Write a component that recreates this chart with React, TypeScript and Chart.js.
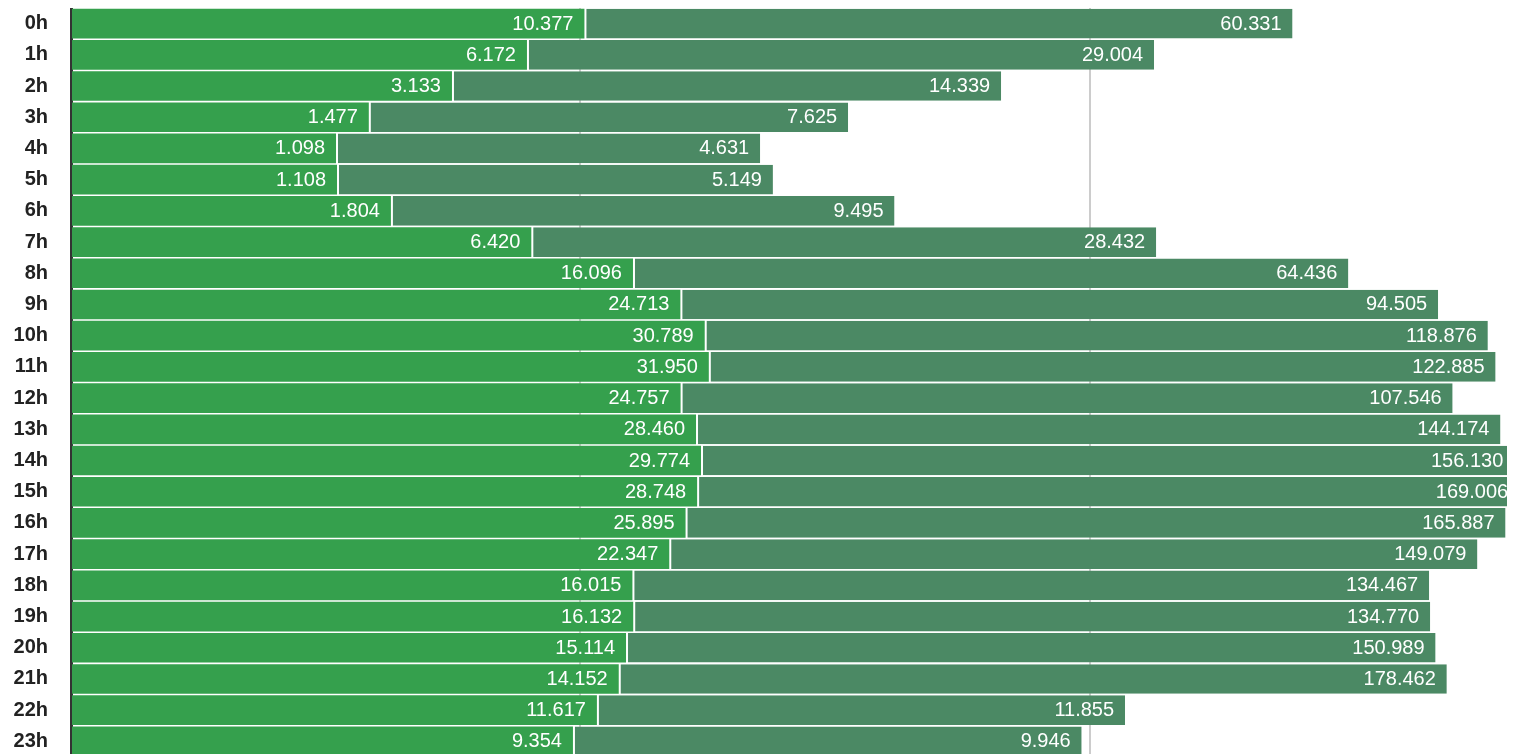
import React, { useEffect, useRef } from 'react';
import { Chart, registerables } from 'chart.js';

Chart.register(...registerables);

const hours = ['0h','1h','2h','3h','4h','5h','6h','7h','8h','9h','10h','11h','12h','13h','14h','15h','16h','17h','18h','19h','20h','21h','22h','23h'];

const firstValues = [10377, 6172, 3133, 1477, 1098, 1108, 1804, 6420, 16096, 24713, 30789, 31950, 24757, 28460, 29774, 28748, 25895, 22347, 16015, 16132, 15114, 14152, 11617, 9354];

const secondValues = [60331, 29004, 14339, 7625, 4631, 5149, 9495, 28432, 64436, 94505, 118876, 122885, 107546, 144174, 156130, 169006, 165887, 149079, 134467, 134770, 150989, 178462, 11855, 9946];

const axisMax = 6;
const axisStep = 2;

const FONT = '"Liberation Sans", Arial, Helvetica, sans-serif';

const fmt = (v: number) => String(v).replace(/\B(?=(\d{3})+(?!\d))/g, '.');
// each segment's length is drawn on a log scale of its own value
const segLen = (v: number) => Math.log10(v / 100);

const rawBySeries = [firstValues, secondValues];

const labelPlugin = {
  id: 'segLabels',
  afterDatasetsDraw(chart: any) {
    const ctx = chart.ctx;
    ctx.save();
    ctx.font = `20px ${FONT}`;
    ctx.fillStyle = '#ffffff';
    ctx.textAlign = 'right';
    ctx.textBaseline = 'middle';
    chart.data.datasets.forEach((_ds: any, di: number) => {
      const meta = chart.getDatasetMeta(di);
      meta.data.forEach((el: any, i: number) => {
        ctx.fillText(fmt(rawBySeries[di][i]), el.x - 11, el.y + 0.5);
      });
    });
    ctx.restore();
  },
};

export default function App() {
  const ref = useRef<HTMLCanvasElement | null>(null);

  useEffect(() => {
    document.documentElement.style.overflow = 'hidden';
    const canvas = ref.current;
    if (!canvas) return;
    const chart = new Chart(canvas, {
      type: 'bar',
      data: {
        labels: hours,
        datasets: [
          {
            data: firstValues.map(segLen),
            backgroundColor: '#35a04d',
            borderWidth: 0,
            barPercentage: 0.95,
            categoryPercentage: 1,
          },
          {
            data: secondValues.map(segLen),
            backgroundColor: '#4b8964',
            borderColor: '#ffffff',
            borderWidth: { left: 2, right: 0, top: 0, bottom: 0 },
            borderSkipped: false,
            barPercentage: 0.95,
            categoryPercentage: 1,
          },
        ],
      },
      options: {
        indexAxis: 'y',
        responsive: false,
        animation: false,
        layout: { padding: 0 },
        plugins: {
          legend: { display: false },
          tooltip: { enabled: false },
        },
        scales: {
          x: {
            stacked: true,
            min: 0,
            max: axisMax,
            ticks: { display: false, stepSize: axisStep, includeBounds: false },
            grid: { color: '#cccccc', lineWidth: 2, drawTicks: false },
            border: { display: false },
          },
          y: {
            stacked: true,
            z: 1,
            grid: { display: false, drawTicks: false },
            border: { display: true, color: '#333333', width: 3 },
            ticks: {
              padding: 23,
              color: '#222222',
              font: { size: 20, weight: 'bold', family: FONT },
            },
            afterFit(scale: any) {
              scale.width = 63;
              scale.paddingTop = 0;
              scale.paddingBottom = 0;
            },
          },
        },
      } as any,
      plugins: [labelPlugin],
    });
    return () => chart.destroy();
  }, []);

  return (
    <div style={{ width: 1507, height: 746, overflow: 'hidden' }}>
      <canvas ref={ref} width={1591} height={749} style={{ display: 'block' }} />
    </div>
  );
}
